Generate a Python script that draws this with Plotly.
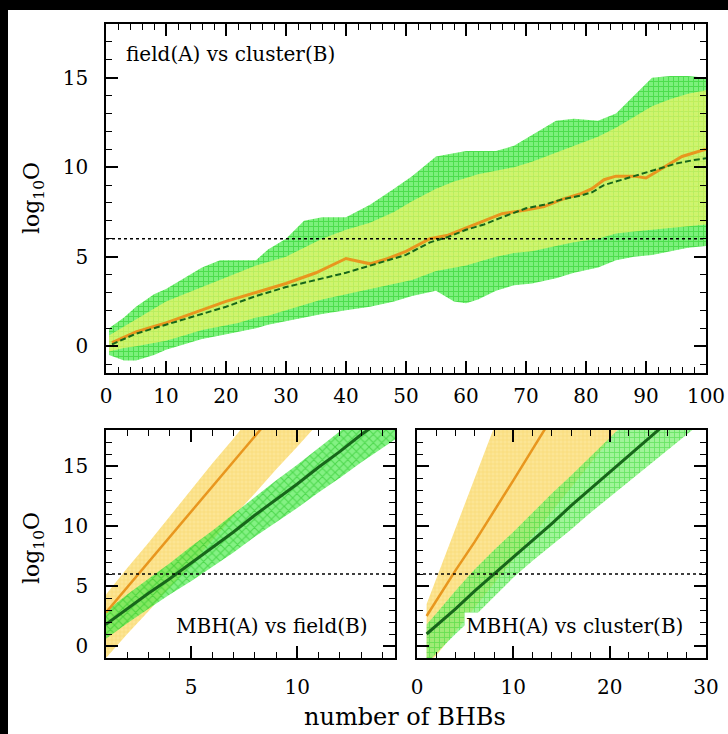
import plotly.graph_objects as go

W, H = 728, 734
FONT = "DejaVu Serif"
THRESHOLD = 6

# ---------------- top panel: field(A) vs cluster(B) ----------------
top_band_x = [0.5, 3, 5, 8, 10, 13, 16, 19, 22, 25, 27, 30, 33, 36, 40, 44, 48, 51, 55, 58,
              60, 62, 65, 68, 71, 75, 78, 82, 85, 88, 91, 94, 97, 100]
green_top_hi = [1.0, 1.6, 2.2, 2.9, 3.2, 3.8, 4.4, 4.8, 4.8, 4.8, 5.4, 6.0, 7.0, 7.2, 7.2, 7.9, 8.8, 9.5,
                10.6, 10.8, 10.9, 10.9, 10.9, 11.2, 11.8, 12.6, 12.7, 12.6, 13.0, 14.0, 15.0, 15.1, 15.1, 15.0]
green_top_lo = [-0.5, -0.8, -0.8, -0.5, -0.2, 0.1, 0.4, 0.6, 0.8, 1.0, 1.2, 1.4, 1.6, 1.8, 2.0, 2.2, 2.5,
                2.8, 3.1, 2.5, 2.4, 2.6, 3.1, 3.4, 3.5, 3.8, 4.1, 4.4, 4.8, 5.0, 5.1, 5.3, 5.5, 5.6]
yellow_top_hi = [0.6, 1.1, 1.5, 2.1, 2.5, 2.9, 3.3, 3.7, 4.1, 4.5, 4.7, 5.0, 5.5, 6.0, 6.5, 6.9, 7.5,
                 8.1, 8.8, 9.2, 9.4, 9.6, 9.8, 10.0, 10.3, 10.8, 11.2, 11.7, 12.2, 12.8, 13.4, 13.8, 14.1, 14.3]
yellow_top_lo = [-0.3, -0.1, 0.0, 0.2, 0.3, 0.6, 0.9, 1.1, 1.3, 1.6, 1.7, 2.0, 2.3, 2.6, 2.9, 3.2, 3.5,
                 3.7, 4.2, 4.4, 4.5, 4.7, 5.0, 5.2, 5.3, 5.6, 5.8, 6.0, 6.3, 6.4, 6.5, 6.6, 6.7, 6.8]

orange_top_x = [1, 3, 5, 8, 10, 15, 20, 25, 30, 35, 38, 40, 44, 47, 50, 54, 57, 60, 63, 66, 70, 73,
                76, 79, 81, 83, 85, 88, 90, 93, 96, 100]
orange_top_y = [0.2, 0.5, 0.8, 1.1, 1.3, 1.9, 2.5, 3.0, 3.5, 4.1, 4.6, 4.9, 4.6, 4.9, 5.3, 6.0, 6.2, 6.6,
                7.0, 7.4, 7.6, 7.8, 8.2, 8.5, 8.8, 9.3, 9.5, 9.5, 9.4, 10.0, 10.6, 11.0]
dgreen_top_x = [1, 3, 5, 8, 10, 15, 20, 25, 30, 35, 40, 44, 47, 50, 54, 57, 60, 63, 66, 70, 73, 76,
                79, 81, 83, 86, 89, 92, 95, 98, 100]
dgreen_top_y = [0.1, 0.4, 0.7, 1.0, 1.2, 1.7, 2.2, 2.8, 3.3, 3.7, 4.1, 4.5, 4.8, 5.1, 5.8, 6.1, 6.5,
                6.8, 7.2, 7.7, 7.9, 8.2, 8.4, 8.6, 9.0, 9.3, 9.6, 9.9, 10.2, 10.4, 10.5]

# ---------------- lower left: MBH(A) vs field(B) ----------------
ll_x = [1, 2, 3, 4, 5, 6, 7, 8, 9, 10, 11, 12, 13, 14, 14.6]
ll_yellow_hi = [4.3, 6.5, 8.6, 10.8, 13.0, 15.2, 17.3, 19.5, 21.6, 23.8, 26.0, 28.1, 30.3, 32.5, 33.8]
ll_yellow_lo = [-1.0, 1.0, 2.9, 4.9, 6.8, 8.8, 10.8, 12.7, 14.7, 16.6, 18.6, 20.6, 22.5, 24.5, 25.7]
ll_green_hi = [2.9, 4.3, 5.6, 6.9, 8.3, 9.6, 11.0, 12.4, 13.8, 15.1, 16.5, 17.9, 19.3, 20.7, 21.5]
ll_green_lo = [0.6, 1.9, 3.1, 4.3, 5.4, 6.6, 7.8, 9.1, 10.3, 11.5, 12.8, 14.0, 15.3, 16.5, 17.2]
ll_orange_x = [1, 2, 3, 4, 5, 6, 7, 8, 8.3]
ll_orange_y = [2.8, 4.9, 7.0, 9.1, 11.2, 13.3, 15.4, 17.5, 18.1]
ll_dgreen_x = [1, 2, 3, 4, 5, 6, 7, 8, 9, 10, 11, 12, 13, 13.4]
ll_dgreen_y = [1.8, 3.1, 4.4, 5.6, 6.9, 8.2, 9.5, 10.9, 12.2, 13.5, 14.9, 16.2, 17.6, 18.1]

# ---------------- lower right: MBH(A) vs cluster(B) ----------------
lr_x = [1, 2, 4, 6, 8, 10, 12, 14, 16, 18, 20, 22, 24, 26, 28, 29.5]
lr_yellow_hi = [3.5, 5.6, 9.8, 14.0, 18.2, 22.4, 26.6, 30.8, 35.0, 39.2, 43.4, 47.6, 51.8, 56.0, 60.2, 63.4]
lr_yellow_lo = [-1.5, -0.8, 1.2, 3.2, 5.2, 7.2, 9.2, 11.2, 13.2, 15.2, 17.2, 19.2, 21.2, 23.2, 25.2, 26.7]
lr_green_hi = [1.8, 2.7, 4.6, 6.4, 8.0, 9.5, 11.1, 12.7, 14.2, 15.8, 17.4, 18.9, 20.5, 22.0, 23.6, 24.8]
lr_green_lo = [-1.5, -0.6, 1.0, 2.5, 4.1, 5.7, 7.1, 8.4, 9.7, 11.1, 12.4, 13.7, 15.0, 16.3, 17.6, 18.6]
lr_orange_x = [1, 2, 4, 6, 8, 10, 12, 13.3]
lr_orange_y = [2.5, 3.8, 6.3, 8.7, 11.2, 13.8, 16.4, 18.1]
lr_dgreen_x = [1, 2, 4, 6, 8, 10, 12, 14, 16, 18, 20, 22, 24, 25.2]
lr_dgreen_y = [1.0, 1.7, 3.1, 4.6, 6.0, 7.4, 8.8, 10.2, 11.7, 13.1, 14.5, 15.9, 17.3, 18.1]

GREEN_FILL = dict(shape="+", fgcolor="rgba(20,200,20,0.95)", bgcolor="rgba(80,235,80,0.75)",
                  size=5, solidity=0.35)
GREEN_X_FILL = dict(shape="x", fgcolor="rgba(20,190,20,0.95)", bgcolor="rgba(80,235,80,0.7)",
                    size=6, solidity=0.35)
GREEN_LIGHT_FILL = dict(shape="+", fgcolor="rgba(30,210,30,0.9)", bgcolor="rgba(120,240,110,0.7)",
                        size=5, solidity=0.3)
YELLOW_TOP_FILL = dict(shape="+", fgcolor="rgba(235,240,70,0.75)", bgcolor="rgba(255,248,110,0.6)",
                       size=4, solidity=0.3)
YELLOW_FILL = dict(shape="+", fgcolor="rgba(240,200,60,0.75)", bgcolor="rgba(250,215,90,0.65)",
                   size=4, solidity=0.3)
ORANGE = "#e8961e"
DGREEN = "#17661a"

fig = go.Figure()


def band(x, lo, hi, pattern, xa, ya):
    fig.add_trace(go.Scatter(x=x, y=lo, mode="lines", line=dict(width=0), hoverinfo="skip",
                             xaxis=xa, yaxis=ya))
    fig.add_trace(go.Scatter(x=x, y=hi, mode="lines", line=dict(width=0), fill="tonexty",
                             fillcolor=pattern["bgcolor"], fillpattern=pattern,
                             hoverinfo="skip", xaxis=xa, yaxis=ya))


def line(x, y, color, xa, ya, dash="solid", width=2.5):
    fig.add_trace(go.Scatter(x=x, y=y, mode="lines", line=dict(color=color, width=width, dash=dash),
                             xaxis=xa, yaxis=ya))


# top
band(top_band_x, green_top_lo, green_top_hi, GREEN_FILL, "x", "y")
band(top_band_x, yellow_top_lo, yellow_top_hi, YELLOW_TOP_FILL, "x", "y")
line(orange_top_x, orange_top_y, ORANGE, "x", "y", width=3)
line(dgreen_top_x, dgreen_top_y, DGREEN, "x", "y", dash="6px,3px", width=2)
# lower left
band(ll_x, ll_yellow_lo, ll_yellow_hi, YELLOW_FILL, "x2", "y2")
band(ll_x, ll_green_lo, ll_green_hi, GREEN_X_FILL, "x2", "y2")
line(ll_orange_x, ll_orange_y, ORANGE, "x2", "y2")
line(ll_dgreen_x, ll_dgreen_y, DGREEN, "x2", "y2", width=3)
# lower right
band(lr_x, lr_yellow_lo, lr_yellow_hi, YELLOW_FILL, "x3", "y3")
band(lr_x, lr_green_lo, lr_green_hi, GREEN_LIGHT_FILL, "x3", "y3")
line(lr_orange_x, lr_orange_y, ORANGE, "x3", "y3")
line(lr_dgreen_x, lr_dgreen_y, DGREEN, "x3", "y3", width=3)


def px_x(a, b):
    return [a / W, b / W]


def px_y(top, bottom):
    return [1 - bottom / H, 1 - top / H]


def ax(domain, rng, dtick, minor_dtick, standoff, anchor, show_labels=True):
    return dict(domain=domain, range=rng, dtick=dtick, tick0=0, ticks="inside", ticklen=12,
                tickwidth=1.5, tickcolor="black", showline=True, linecolor="black", linewidth=1.5,
                mirror="allticks", showgrid=False, zeroline=False, anchor=anchor, automargin=False,
                showticklabels=show_labels, ticklabelstandoff=standoff,
                tickfont=dict(family=FONT, size=20, color="black"),
                minor=dict(dtick=minor_dtick, tick0=0, ticks="inside", ticklen=6, tickwidth=1.2,
                           tickcolor="black"))


TOP_Y = (24, 373)
LOW_Y = (430, 658)
fig.update_layout(
    width=W, height=H, margin=dict(l=0, r=0, t=0, b=0, pad=0, autoexpand=False), showlegend=False,
    paper_bgcolor="black", plot_bgcolor="white",
    xaxis=ax(px_x(106, 706), [0, 100], 10, 2, 4, "y"),
    yaxis=ax(px_y(*TOP_Y), [-1.5, 18], 5, 1, 12, "x"),
    xaxis2=ax(px_x(106, 395), [1, 14.6], 5, 1, 10, "y2"),
    yaxis2=ax(px_y(*LOW_Y), [-1, 18], 5, 1, 12, "x2"),
    xaxis3=ax(px_x(417, 706), [0, 30], 10, 2, 10, "y3"),
    yaxis3=ax(px_y(*LOW_Y), [-1, 18], 5, 1, 12, "x3", show_labels=False),
)

shapes = [dict(type="rect", xref="paper", yref="paper", x0=8 / W, x1=1, y0=0, y1=1 - 10 / H,
               fillcolor="white", line=dict(width=0), layer="below")]
for xr in ["x", "x2", "x3"]:
    yr = xr.replace("x", "y")
    shapes.append(dict(type="line", xref=f"{xr} domain", yref=yr, x0=0, x1=1, y0=THRESHOLD,
                       y1=THRESHOLD, line=dict(color="black", width=1.3, dash="dot")))
fig.update_layout(shapes=shapes)

anns = [
    dict(text="field(A) vs cluster(B)", xref="x", yref="y", x=3, y=16.3, xanchor="left",
         yanchor="middle", showarrow=False, font=dict(family=FONT, size=20, color="black")),
    dict(text="MBH(A) vs field(B)", xref="x2", yref="y2", x=13.4, y=1.7, xanchor="right",
         yanchor="middle", showarrow=False, bgcolor="white",
         font=dict(family=FONT, size=20, color="black")),
    dict(text="MBH(A) vs cluster(B)", xref="x3", yref="y3", x=27.8, y=1.7, xanchor="right",
         yanchor="middle", showarrow=False, bgcolor="white",
         font=dict(family=FONT, size=20, color="black")),
    dict(text="log<sub>10</sub>O", xref="paper", yref="paper", x=33 / W, y=1 - 198 / H,
         xanchor="center", yanchor="middle",
         textangle=-90, showarrow=False, font=dict(family=FONT, size=22, color="black")),
    dict(text="log<sub>10</sub>O", xref="paper", yref="paper", x=33 / W, y=1 - 548 / H,
         xanchor="center", yanchor="middle",
         textangle=-90, showarrow=False, font=dict(family=FONT, size=22, color="black")),
    dict(text="number of BHBs", xref="paper", yref="paper", x=405 / W, y=1 - 717 / H,
         xanchor="center", yanchor="middle",
         showarrow=False, font=dict(family=FONT, size=24, color="black")),
]
fig.update_layout(annotations=anns)

fig.write_html("out.html", config={"displayModeBar": False},
               post_script="document.documentElement.style.margin='0px';"
                           "document.documentElement.style.background='white';"
                           "document.body.style.margin='0px';document.body.style.padding='0px';"
                           "document.body.style.background='white';"
                           "document.body.style.overflow='hidden';")
